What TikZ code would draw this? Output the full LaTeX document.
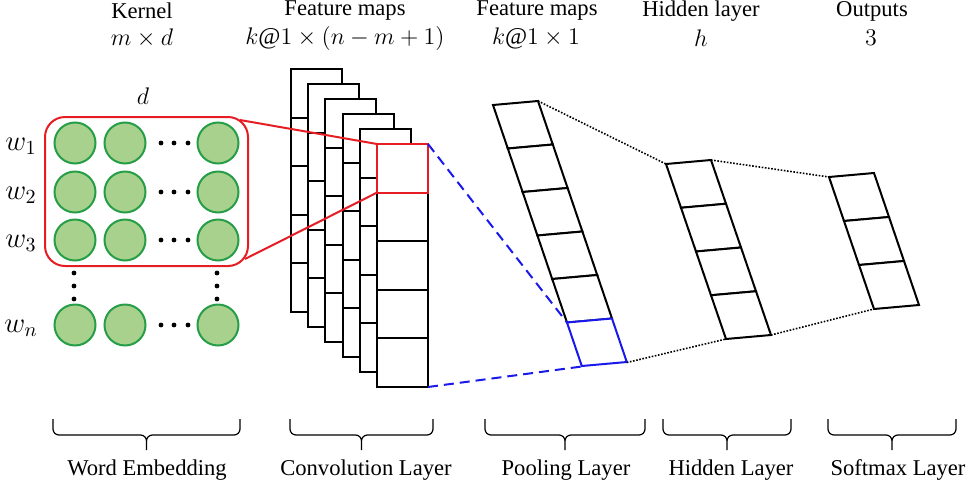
\documentclass[tikz,border=0pt]{standalone}
\usepackage{fontspec}
\setmainfont{Liberation Serif}
\usetikzlibrary{calc}
\definecolor{embfill}{RGB}{169,209,142}
\definecolor{embdraw}{RGB}{38,158,72}
\definecolor{kernred}{RGB}{230,30,36}
\definecolor{poolblue}{RGB}{25,25,235}

\begin{document}
\begin{tikzpicture}[x=0.5pt,y=-0.5pt]
\tikzstyle{emb} = [circle, draw=embdraw, line width=1pt, fill=embfill,
minimum size=20.5pt, inner sep=0pt]
\tikzstyle{cell} = [draw, line width=1pt, fill=white]
\tikzstyle{title} = [font=\fontsize{11.3}{13}\selectfont, inner sep=0pt]
\tikzstyle{dim} = [font=\fontsize{12}{14}\selectfont, inner sep=0pt]
\tikzstyle{word} = [font=\fontsize{14}{16}\selectfont, inner sep=0pt]
\tikzstyle{dot} = [circle, fill=black, minimum size=2.4pt, inner sep=0pt]
\tikzstyle{zoom} = [draw=kernred, line width=1pt]
\tikzstyle{pool} = [draw=poolblue, line width=1pt, dash pattern=on 5pt off 3pt]
\tikzstyle{link} = [draw, line width=0.8pt, dash pattern=on 0.8pt off 0.8pt]
\tikzstyle{brace} = [draw, line width=0.6pt, rounded corners=3pt]

\useasboundingbox (0,0) rectangle (976,488);

% headings
\node[title] (hk) at (142,11) {Kernel};
\node[dim] (hkd) at (142,38) {$m\times d$};
\node[title] (hf) at (345,11) {Feature maps};
\node[dim] (hfd) at (345,38) {$k@1\times(n-m+1)$};
\node[title] (hp) at (537,11) {Feature maps};
\node[dim] (hpd) at (536,38) {$k@1\times1$};
\node[title] (hh) at (701,11) {Hidden layer};
\node[dim] (hhd) at (701,38) {$h$};
\node[title] (ho) at (872,11) {Outputs};
\node[dim] (hod) at (871,38) {$3$};

% word embedding
\node[dim] (dlab) at (143,96) {$d$};
\foreach \r/\y/\w in {1/143/w_1, 2/192/w_2, 3/240/w_3, n/325/w_n}{
  \node[word] (w\r) at (21,\y+3) {$\w$};
  \node[emb] (e\r a) at (75,\y) {};
  \node[emb] (e\r b) at (125,\y) {};
  \node[emb] (e\r c) at (218,\y) {};
  \foreach \x in {161,174,188}
    \node[dot] at (\x,\y) {};
}
\foreach \x in {74,217}
  \foreach \y in {273,286,299}
    \node[dot] at (\x,\y) {};
\draw[zoom, rounded corners=10pt] (45,117) rectangle (248,266);
\coordinate (kup) at (240,120);
\coordinate (klo) at (245,259);

% convolution layer
\foreach \i in {0,...,5}{
  \draw[cell] ({291+17.2*\i},{69+15*\i}) rectangle ++(51,243);
  \foreach \k in {1,...,4}
    \draw[line width=1pt] ({291+17.2*\i},{69+15*\i+48.6*\k}) -- ++(51,0);
}
\coordinate (ctl) at (377,144);
\coordinate (cml) at (377,192.6);
\coordinate (ctr) at (428,144);
\coordinate (cbr) at (428,387);
\draw[zoom] (kup) -- (ctl);
\draw[zoom] (klo) -- (cml);
\draw[zoom] (ctl) rectangle (428,192.6);

% pooling layer
\foreach \j in {0,...,4}
  \draw[cell] ({493+14.8*\j},{105+43.5*\j}) -- ++(45,-4) -- ++(14.8,43.5)
    -- ++(-45,4) -- cycle;
\draw[cell, draw=poolblue] (567,322.5) -- ++(45,-4) -- ++(14.8,43.5)
  -- ++(-45,4) -- cycle;
\coordinate (ptr) at (538,101);
\coordinate (pml) at (567,322.5);
\coordinate (pbl) at (581.8,366.5);
\coordinate (pbr) at (626.8,362.5);
\draw[pool] (ctr) -- (pml);
\draw[pool] (cbr) -- (pbl);

% hidden layer
\foreach \j in {0,...,3}
  \draw[cell] ({666+15*\j},{164+43.75*\j}) -- ++(45,-4) -- ++(15,43.75)
    -- ++(-45,4) -- cycle;
\coordinate (htl) at (666,164);
\coordinate (htr) at (711,160);
\coordinate (hbl) at (726,339);
\coordinate (hbr) at (771,335);

% softmax layer
\foreach \j in {0,...,2}
  \draw[cell] ({829+15*\j},{177+44*\j}) -- ++(45,-4) -- ++(15,44)
    -- ++(-45,4) -- cycle;
\coordinate (otl) at (829,177);
\coordinate (obl) at (874,309);

\path[link] (ptr) -- (htl);
\path[link] (pbr) -- (hbl);
\path[link] (htr) -- (otl);
\path[link] (hbr) -- (obl);

% braces and layer names
\foreach \bl/\br/\bx/\btext/\bname in {53/240/147/Word Embedding/lw,
  290/433/366/Convolution Layer/lc, 485/645/566/Pooling Layer/lp,
  663/791/731/Hidden Layer/lh, 828/956/898/Softmax Layer/ls}{
  \draw[brace] (\bl,419) |- ({(\bl+\br)/2},435) -- ({(\bl+\br)/2},450)
    ({(\bl+\br)/2},450) |- (\br,435) -- (\br,419);
  \node[title] (\bname) at (\bx,470) {\btext};
}
\end{tikzpicture}
\end{document}
